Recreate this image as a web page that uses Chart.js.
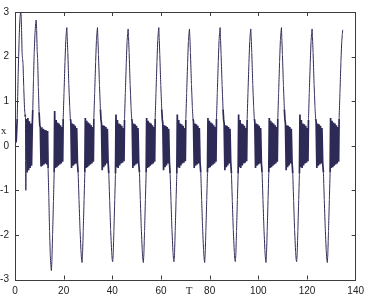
<!DOCTYPE html>
<html lang="en">
  <head>
    <meta charset="UTF-8" />
    <title>x(T)</title>
  </head>
  <style>
    * {
      margin: 0;
      padding: 0;
    }
    body {
      background: white;
    }
    .chartBox {
      width: 370px;
      height: 296px;
    }
  </style>
  <body>
    <div class="chartBox">
      <canvas id="myChart" width="370" height="296"></canvas>
    </div>

    <script src="https://cdn.jsdelivr.net/npm/chart.js"></script>

    <script>
      // tick labels
      const xTicks = [0, 20, 40, 60, 80, 100, 120, 140];
      const yTicks = [-3, -2, -1, 0, 1, 2, 3];

      // T samples (one line per segment / half swing)
      const tSamples = [
        0, 0.5, 0.9, 1.3, 1.7, 2.0, 2.3, 2.5, 2.7, 2.9, 3.1, 3.3, 3.6, 3.9, 4.1,
        4.3, 4.45, 4.7, 5.0, 5.3, 5.6, 5.9, 6.2, 6.5, 6.8, 7.1,
        7.3, 7.6, 7.9, 8.2, 8.5, 8.7, 8.9, 9.1, 9.3, 9.6, 9.9, 10.2,
        10.4, 10.7, 11.0, 11.3, 11.6, 11.9, 12.2, 12.5, 12.8, 13.1, 13.4,
        13.6, 13.9, 14.2, 14.5, 14.75, 14.95,
        15.15, 15.45, 15.8, 16.1, 16.3, 16.6, 16.9, 17.2, 17.5, 17.8, 18.1, 18.4, 18.7, 19.0, 19.3, 19.6, 19.8, 20.15, 20.55, 20.85, 21.1, 21.3,
        21.45, 21.7, 22.1, 22.5, 22.75, 22.95, 23.25, 23.55, 23.85, 24.15, 24.45, 24.75, 25.05, 25.35, 25.65, 25.95, 26.3, 26.7, 27.1, 27.35, 27.55,
        27.75, 28.05, 28.4, 28.7, 28.9, 29.2, 29.5, 29.8, 30.1, 30.4, 30.7, 31.0, 31.3, 31.6, 31.9, 32.2, 32.4, 32.75, 33.15, 33.45, 33.7, 33.9,
        34.05, 34.3, 34.7, 35.1, 35.35, 35.55, 35.85, 36.15, 36.45, 36.75, 37.05, 37.35, 37.65, 37.95, 38.25, 38.55, 38.9, 39.3, 39.7, 39.95, 40.15,
        40.35, 40.65, 41.0, 41.3, 41.5, 41.8, 42.1, 42.4, 42.7, 43.0, 43.3, 43.6, 43.9, 44.2, 44.5, 44.8, 45.0, 45.35, 45.75, 46.05, 46.3, 46.5,
        46.65, 46.9, 47.3, 47.7, 47.95, 48.15, 48.45, 48.75, 49.05, 49.35, 49.65, 49.95, 50.25, 50.55, 50.85, 51.15, 51.5, 51.9, 52.3, 52.55, 52.75,
        52.95, 53.25, 53.6, 53.9, 54.1, 54.4, 54.7, 55.0, 55.3, 55.6, 55.9, 56.2, 56.5, 56.8, 57.1, 57.4, 57.6, 57.95, 58.35, 58.65, 58.9, 59.1,
        59.25, 59.5, 59.9, 60.3, 60.55, 60.75, 61.05, 61.35, 61.65, 61.95, 62.25, 62.55, 62.85, 63.15, 63.45, 63.75, 64.1, 64.5, 64.9, 65.15, 65.35,
        65.55, 65.85, 66.2, 66.5, 66.7, 67.0, 67.3, 67.6, 67.9, 68.2, 68.5, 68.8, 69.1, 69.4, 69.7, 70.0, 70.2, 70.55, 70.95, 71.25, 71.5, 71.7,
        71.85, 72.1, 72.5, 72.9, 73.15, 73.35, 73.65, 73.95, 74.25, 74.55, 74.85, 75.15, 75.45, 75.75, 76.05, 76.35, 76.7, 77.1, 77.5, 77.75, 77.95,
        78.15, 78.45, 78.8, 79.1, 79.3, 79.6, 79.9, 80.2, 80.5, 80.8, 81.1, 81.4, 81.7, 82.0, 82.3, 82.6, 82.8, 83.15, 83.55, 83.85, 84.1, 84.3,
        84.45, 84.7, 85.1, 85.5, 85.75, 85.95, 86.25, 86.55, 86.85, 87.15, 87.45, 87.75, 88.05, 88.35, 88.65, 88.95, 89.3, 89.7, 90.1, 90.35, 90.55,
        90.75, 91.05, 91.4, 91.7, 91.9, 92.2, 92.5, 92.8, 93.1, 93.4, 93.7, 94.0, 94.3, 94.6, 94.9, 95.2, 95.4, 95.75, 96.15, 96.45, 96.7, 96.9,
        97.05, 97.3, 97.7, 98.1, 98.35, 98.55, 98.85, 99.15, 99.45, 99.75, 100.05, 100.35, 100.65, 100.95, 101.25, 101.55, 101.9, 102.3, 102.7, 102.95, 103.15,
        103.35, 103.65, 104.0, 104.3, 104.5, 104.8, 105.1, 105.4, 105.7, 106.0, 106.3, 106.6, 106.9, 107.2, 107.5, 107.8, 108.0, 108.35, 108.75, 109.05, 109.3, 109.5,
        109.65, 109.9, 110.3, 110.7, 110.95, 111.15, 111.45, 111.75, 112.05, 112.35, 112.65, 112.95, 113.25, 113.55, 113.85, 114.15, 114.5, 114.9, 115.3, 115.55, 115.75,
        115.95, 116.25, 116.6, 116.9, 117.1, 117.4, 117.7, 118.0, 118.3, 118.6, 118.9, 119.2, 119.5, 119.8, 120.1, 120.4, 120.6, 120.95, 121.35, 121.65, 121.9, 122.1,
        122.25, 122.5, 122.9, 123.3, 123.55, 123.75, 124.05, 124.35, 124.65, 124.95, 125.25, 125.55, 125.85, 126.15, 126.45, 126.75, 127.1, 127.5, 127.9, 128.15, 128.35,
        128.55, 128.85, 129.2, 129.5, 129.7, 130.0, 130.3, 130.6, 130.9, 131.2, 131.5, 131.8, 132.1, 132.4, 132.7, 133.0, 133.2, 133.55, 133.95, 134.25, 134.5, 134.7
      ];

      // x values, same layout as tSamples
      const xSamples = [
        0.05, 0.1, 0.6, 1.6, 2.4, 2.85, 3.0, 2.95, 2.6, 2.1, 1.95, 1.85, 1.3, 0.85, 0.7,
        0.65, -1.0, 0.6, -0.6, 0.62, -0.55, 0.55, -0.5, 0.5, -0.45, 0.45,
        0.8, 1.5, 2.1, 2.5, 2.75, 2.82, 2.6, 2.15, 1.95, 1.3, 0.75, 0.45,
        0.42, -0.45, 0.4, -0.45, 0.38, -0.42, 0.36, -0.4, 0.35, -0.42, 0.33,
        -0.5, -1.15, -1.9, -2.45, -2.7, -2.8,
        -2.6, -2.0, -1.25, -0.6, 0.78, -0.5, 0.58, -0.48, 0.52, -0.45, 0.5, -0.42, 0.46, -0.4, 0.42, -0.36, 0.6, 1.2, 1.9, 2.35, 2.55, 2.65,
        2.45, 2.1, 1.4, 0.85, 0.6, 0.55, -0.5, 0.5, -0.45, 0.48, -0.42, 0.45, -0.4, 0.4, -0.38, -0.6, -1.2, -1.85, -2.35, -2.55, -2.62,
        -2.45, -1.9, -1.2, -0.6, 0.62, -0.5, 0.56, -0.48, 0.52, -0.45, 0.5, -0.42, 0.46, -0.4, 0.42, -0.36, 0.6, 1.2, 1.9, 2.35, 2.55, 2.65,
        2.42, 2.05, 1.38, 0.82, 0.58, 0.5, -0.55, 0.46, -0.48, 0.45, -0.44, 0.42, -0.4, 0.38, -0.36, -0.62, -1.22, -1.88, -2.36, -2.56, -2.6,
        -2.45, -1.9, -1.2, -0.62, 0.7, -0.48, 0.58, -0.5, 0.5, -0.44, 0.48, -0.4, 0.45, -0.38, 0.4, -0.35, 0.58, 1.2, 1.88, 2.33, 2.52, 2.62,
        2.45, 2.1, 1.4, 0.85, 0.6, 0.55, -0.5, 0.5, -0.45, 0.48, -0.42, 0.45, -0.4, 0.4, -0.38, -0.6, -1.2, -1.85, -2.35, -2.55, -2.62,
        -2.45, -1.9, -1.2, -0.6, 0.62, -0.5, 0.56, -0.48, 0.52, -0.45, 0.5, -0.42, 0.46, -0.4, 0.42, -0.36, 0.6, 1.2, 1.9, 2.35, 2.55, 2.65,
        2.42, 2.05, 1.38, 0.82, 0.58, 0.5, -0.55, 0.46, -0.48, 0.45, -0.44, 0.42, -0.4, 0.38, -0.36, -0.62, -1.22, -1.88, -2.36, -2.56, -2.6,
        -2.45, -1.9, -1.2, -0.62, 0.7, -0.48, 0.58, -0.5, 0.5, -0.44, 0.48, -0.4, 0.45, -0.38, 0.4, -0.35, 0.58, 1.2, 1.88, 2.33, 2.52, 2.62,
        2.45, 2.1, 1.4, 0.85, 0.6, 0.55, -0.5, 0.5, -0.45, 0.48, -0.42, 0.45, -0.4, 0.4, -0.38, -0.6, -1.2, -1.85, -2.35, -2.55, -2.62,
        -2.45, -1.9, -1.2, -0.6, 0.62, -0.5, 0.56, -0.48, 0.52, -0.45, 0.5, -0.42, 0.46, -0.4, 0.42, -0.36, 0.6, 1.2, 1.9, 2.35, 2.55, 2.65,
        2.42, 2.05, 1.38, 0.82, 0.58, 0.5, -0.55, 0.46, -0.48, 0.45, -0.44, 0.42, -0.4, 0.38, -0.36, -0.62, -1.22, -1.88, -2.36, -2.56, -2.6,
        -2.45, -1.9, -1.2, -0.62, 0.7, -0.48, 0.58, -0.5, 0.5, -0.44, 0.48, -0.4, 0.45, -0.38, 0.4, -0.35, 0.58, 1.2, 1.88, 2.33, 2.52, 2.62,
        2.45, 2.1, 1.4, 0.85, 0.6, 0.55, -0.5, 0.5, -0.45, 0.48, -0.42, 0.45, -0.4, 0.4, -0.38, -0.6, -1.2, -1.85, -2.35, -2.55, -2.62,
        -2.45, -1.9, -1.2, -0.6, 0.62, -0.5, 0.56, -0.48, 0.52, -0.45, 0.5, -0.42, 0.46, -0.4, 0.42, -0.36, 0.6, 1.2, 1.9, 2.35, 2.55, 2.65,
        2.42, 2.05, 1.38, 0.82, 0.58, 0.5, -0.55, 0.46, -0.48, 0.45, -0.44, 0.42, -0.4, 0.38, -0.36, -0.62, -1.22, -1.88, -2.36, -2.56, -2.6,
        -2.45, -1.9, -1.2, -0.62, 0.7, -0.48, 0.58, -0.5, 0.5, -0.44, 0.48, -0.4, 0.45, -0.38, 0.4, -0.35, 0.58, 1.2, 1.88, 2.33, 2.52, 2.62,
        2.45, 2.1, 1.4, 0.85, 0.6, 0.55, -0.5, 0.5, -0.45, 0.48, -0.42, 0.45, -0.4, 0.4, -0.38, -0.6, -1.2, -1.85, -2.35, -2.55, -2.62,
        -2.45, -1.9, -1.2, -0.6, 0.62, -0.5, 0.56, -0.48, 0.52, -0.45, 0.5, -0.42, 0.46, -0.4, 0.42, -0.36, 0.6, 1.2, 1.9, 2.3, 2.5, 2.6
      ];

      const lineColor = "#2d2a56";
      const frameColor = "#3c3c3c";
      const tickFont = { family: "'Liberation Sans', Arial, sans-serif", size: 10 };

      // segments that stay inside the small band are the dense bursts
      const inBurst = (ctx) =>
        Math.abs(ctx.p0.parsed.y) < 0.85 && Math.abs(ctx.p1.parsed.y) < 0.85;

      // data block
      const data = {
        datasets: [
          {
            label: "x",
            data: tSamples.map((t, i) => ({ x: t, y: xSamples[i] })),
            borderColor: lineColor,
            borderWidth: 1,
            pointRadius: 0,
            // tiny tension: keeps the full path (no per-pixel fast path)
            tension: 0.001,
            fill: false,
            segment: {
              borderWidth: (ctx) => (inBurst(ctx) ? 1.7 : 1)
            }
          }
        ]
      };

      // frame with inward ticks + axis names
      const matlabFrame = {
        id: "matlabFrame",
        afterDraw(chart) {
          const { ctx, chartArea, scales } = chart;
          const { left, right, top, bottom } = chartArea;
          const tick = 4;
          ctx.save();
          ctx.strokeStyle = frameColor;
          ctx.lineWidth = 1;
          ctx.strokeRect(Math.round(left) + 0.5, Math.round(top) + 0.5,
            Math.round(right - left) - 1, Math.round(bottom - top));

          ctx.beginPath();
          xTicks.slice(1, -1).forEach((v) => {
            const px = Math.round(scales.x.getPixelForValue(v)) + 0.5;
            ctx.moveTo(px, bottom);
            ctx.lineTo(px, bottom - tick);
            ctx.moveTo(px, top);
            ctx.lineTo(px, top + tick);
          });
          yTicks.slice(1, -1).forEach((v) => {
            const py = Math.round(scales.y.getPixelForValue(v)) + 0.5;
            ctx.moveTo(left, py);
            ctx.lineTo(left + tick, py);
            ctx.moveTo(right, py);
            ctx.lineTo(right - tick, py);
          });
          ctx.stroke();

          ctx.fillStyle = "#222";
          ctx.font = "11px 'Liberation Serif', serif";
          ctx.textAlign = "left";
          ctx.textBaseline = "middle";
          ctx.fillText("x", 1, 131);
          ctx.textAlign = "center";
          ctx.fillText("T", 189, 291);
          ctx.restore();
        }
      };

      // config block
      const config = {
        type: "line",
        data,
        options: {
          responsive: false,
          animation: false,
          layout: {
            padding: { top: 5, right: 7, left: 0, bottom: 0 }
          },
          plugins: {
            legend: { display: false },
            tooltip: { enabled: false }
          },
          scales: {
            x: {
              type: "linear",
              min: 0,
              max: 140,
              afterBuildTicks: (scale) => {
                scale.ticks = xTicks.map((v) => ({ value: v }));
              },
              afterFit: (scale) => {
                scale.height = 16.5;
              },
              grid: { display: false, drawTicks: false, tickLength: 0 },
              border: { display: false },
              ticks: {
                color: "#222",
                font: tickFont,
                padding: 6,
                maxRotation: 0,
                autoSkip: false
              }
            },
            y: {
              type: "linear",
              min: -3,
              max: 3,
              afterBuildTicks: (scale) => {
                scale.ticks = yTicks.map((v) => ({ value: v }));
              },
              afterFit: (scale) => {
                scale.width = 15;
              },
              grid: { display: false, drawTicks: false, tickLength: 0 },
              border: { display: false },
              ticks: {
                color: "#222",
                font: tickFont,
                padding: 6
              }
            }
          }
        },
        plugins: [matlabFrame]
      };

      // init render block
      const myChart = new Chart(document.getElementById("myChart"), config);
    </script>
  </body>
</html>
